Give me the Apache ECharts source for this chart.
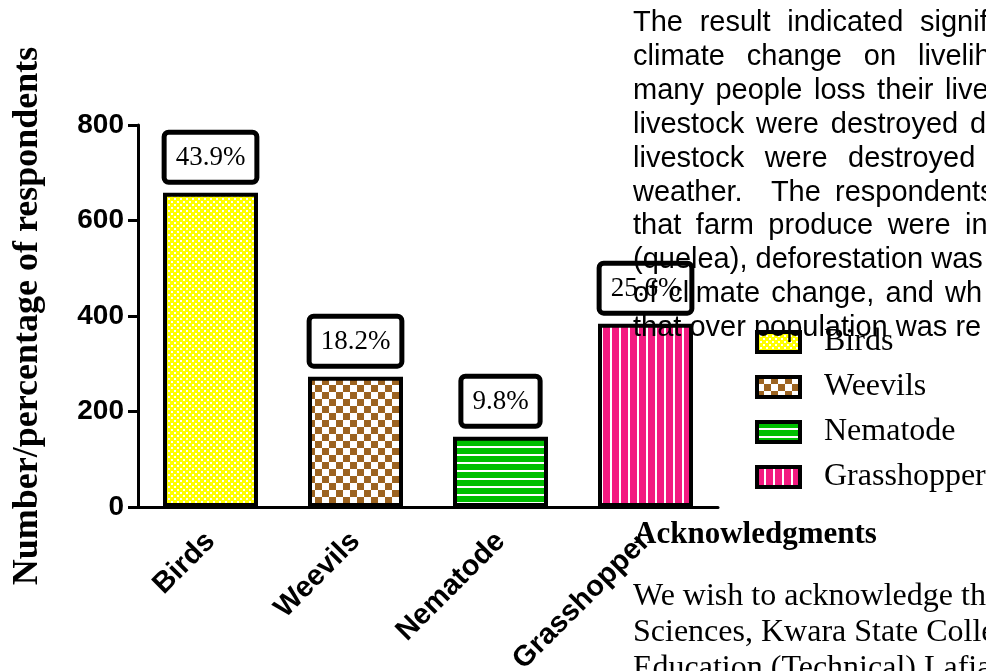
<!DOCTYPE html>
<html>
<head>
<meta charset="utf-8">
<script src="https://cdn.jsdelivr.net/npm/echarts@6/dist/echarts.min.js"></script>
<style>
  html, body { margin: 0; padding: 0; background: #fff; }
  #chart { width: 986px; height: 671px; }
</style>
</head>
<body>
<div id="chart"></div>
<script>
// chart data
const categories = ["Birds", "Weevils", "Nematode", "Grasshopper"];
const respondents = [658, 273, 147, 384];
const percentLabels = ["43.9%", "18.2%", "9.8%", "25.6%"];
const yTicks = [0, 200, 400, 600, 800];
const yTitle = "Number/percentage of respondents";

// page text that overlaps the figure in the source
const bodyLines = [
  "The result indicated signif",
  "climate change on livelih",
  "many people loss their live",
  "livestock were destroyed d",
  "livestock were destroyed",
  "weather.  The respondents",
  "that farm produce were in",
  "(quelea), deforestation was",
  "of climate change, and wh",
  "that over population was re",
];
const ackTitle = "Acknowledgments";
const ackLines = [
  "We wish to acknowledge th",
  "Sciences, Kwara State Colle",
  "Education (Technical) Lafia",
];

// layout of the justified lines: x where the last visible word starts (null = not justified)
const lastWordX = [920, 918, 945, 970, 848, 835, 965, null, 945, null];

function pattern(kind, color) {
  const c = document.createElement("canvas");
  const ctx = c.getContext("2d");
  if (kind === "fine") {
    c.width = 6; c.height = 6;
    ctx.fillStyle = color; ctx.fillRect(0, 0, 6, 6);
    ctx.fillStyle = "#fff";
    ctx.fillRect(0, 0, 2, 2); ctx.fillRect(3, 3, 2, 2);
  } else if (kind === "check") {
    c.width = 14; c.height = 14;
    ctx.fillStyle = "#fff"; ctx.fillRect(0, 0, 14, 14);
    ctx.fillStyle = color;
    ctx.fillRect(0, 0, 7, 7); ctx.fillRect(7, 7, 7, 7);
  } else if (kind === "hlines") {
    c.width = 8; c.height = 8;
    ctx.fillStyle = color; ctx.fillRect(0, 0, 8, 8);
    ctx.fillStyle = "#fff"; ctx.fillRect(0, 6, 8, 2);
  } else {
    c.width = 9; c.height = 9;
    ctx.fillStyle = color; ctx.fillRect(0, 0, 9, 9);
    ctx.fillStyle = "#fff"; ctx.fillRect(7, 0, 2, 9);
  }
  return { image: c, repeat: "repeat" };
}

const fills = [
  pattern("fine", "#ffff00"),
  pattern("check", "#9c6320"),
  pattern("hlines", "#00bf00"),
  pattern("vlines", "#f31a80"),
];

const chart = echarts.init(document.getElementById("chart"));

const series = categories.map((name, i) => ({
  name: name,
  type: "bar",
  stack: "all",
  barWidth: 95,
  data: respondents.map((v, j) => (j === i ? v : "-")),
  itemStyle: { color: fills[i], borderColor: "#000", borderWidth: 4 },
  label: {
    show: true,
    position: "top",
    distance: 13,
    formatter: (p) => percentLabels[p.dataIndex],
    fontFamily: "Liberation Serif",
    fontSize: 27,
    color: "#000",
    backgroundColor: "#fff",
    borderColor: "#000",
    borderWidth: 5,
    borderRadius: 2,
    padding: [10, 9, 8, 9],
  },
}));

// body text, spread word by word on justified lines
const bodyFont = "29px 'Liberation Sans'";
const measure = document.createElement("canvas").getContext("2d");
measure.font = bodyFont;
const texts = [];
bodyLines.forEach((line, i) => {
  const y = 23 + i * 33.9;
  if (lastWordX[i] == null) {
    texts.push({ type: "text", x: 633, y: y, z: 100,
      style: { text: line, font: bodyFont, fill: "#000", verticalAlign: "middle" } });
    return;
  }
  const words = line.split(" ");
  const lastW = words.length - 1;
  let used = 0;
  for (let k = 0; k < lastW; k++) used += measure.measureText(words[k]).width;
  const gap = (lastWordX[i] - 633 - used) / lastW;
  let x = 633;
  words.forEach((w, k) => {
    if (w) {
      texts.push({ type: "text", x: k === lastW ? lastWordX[i] : x, y: y, z: 100,
        style: { text: w, font: bodyFont, fill: "#000", verticalAlign: "middle" } });
    }
    x += measure.measureText(w).width + gap;
  });
});
texts.push({ type: "text", x: 634, y: 535, z: 100,
  style: { text: ackTitle, font: "bold 31px 'Liberation Serif'", fill: "#000", verticalAlign: "middle" } });
ackLines.forEach((line, i) => {
  texts.push({ type: "text", x: 633, y: 597 + i * 36, z: 100,
    style: { text: line, font: "32px 'Liberation Serif'", fill: "#000", verticalAlign: "middle" } });
});

const option = {
  backgroundColor: "#fff",
  animation: false,
  grid: { left: 138, right: 268, top: 125, bottom: 164, outerBoundsMode: "none", containLabel: false },
  xAxis: {
    type: "category",
    data: categories,
    axisLine: { lineStyle: { color: "#000", width: 3 } },
    axisTick: { alignWithLabel: true, length: 8, lineStyle: { color: "#000", width: 3 } },
    axisLabel: {
      rotate: 45,
      margin: 30,
      color: "#000",
      fontFamily: "Liberation Sans",
      fontWeight: "bold",
      fontSize: 29,
    },
  },
  yAxis: {
    type: "value",
    min: yTicks[0],
    max: yTicks[yTicks.length - 1],
    interval: yTicks[1] - yTicks[0],
    name: yTitle,
    nameLocation: "middle",
    nameGap: 92,
    nameTextStyle: {
      color: "#000",
      fontFamily: "Liberation Serif",
      fontWeight: "bold",
      fontSize: 36,
    },
    axisLine: { show: true, lineStyle: { color: "#000", width: 3 } },
    axisTick: { show: true, length: 10, lineStyle: { color: "#000", width: 3 } },
    axisLabel: {
      margin: 14,
      color: "#000",
      fontFamily: "Liberation Sans",
      fontWeight: "bold",
      fontSize: 28,
    },
    splitLine: { show: false },
  },
  legend: {
    orient: "vertical",
    left: 750,
    top: 321,
    icon: "rect",
    itemWidth: 43,
    itemHeight: 20,
    itemGap: 13,
    itemStyle: { borderColor: "#000", borderWidth: 4 },
    textStyle: {
      color: "#000",
      fontFamily: "Liberation Serif",
      fontSize: 32,
      lineHeight: 31,
      padding: [0, 0, 0, 19],
    },
    data: categories,
  },
  graphic: texts,
  series: series,
};

chart.setOption(option);
</script>
</body>
</html>
